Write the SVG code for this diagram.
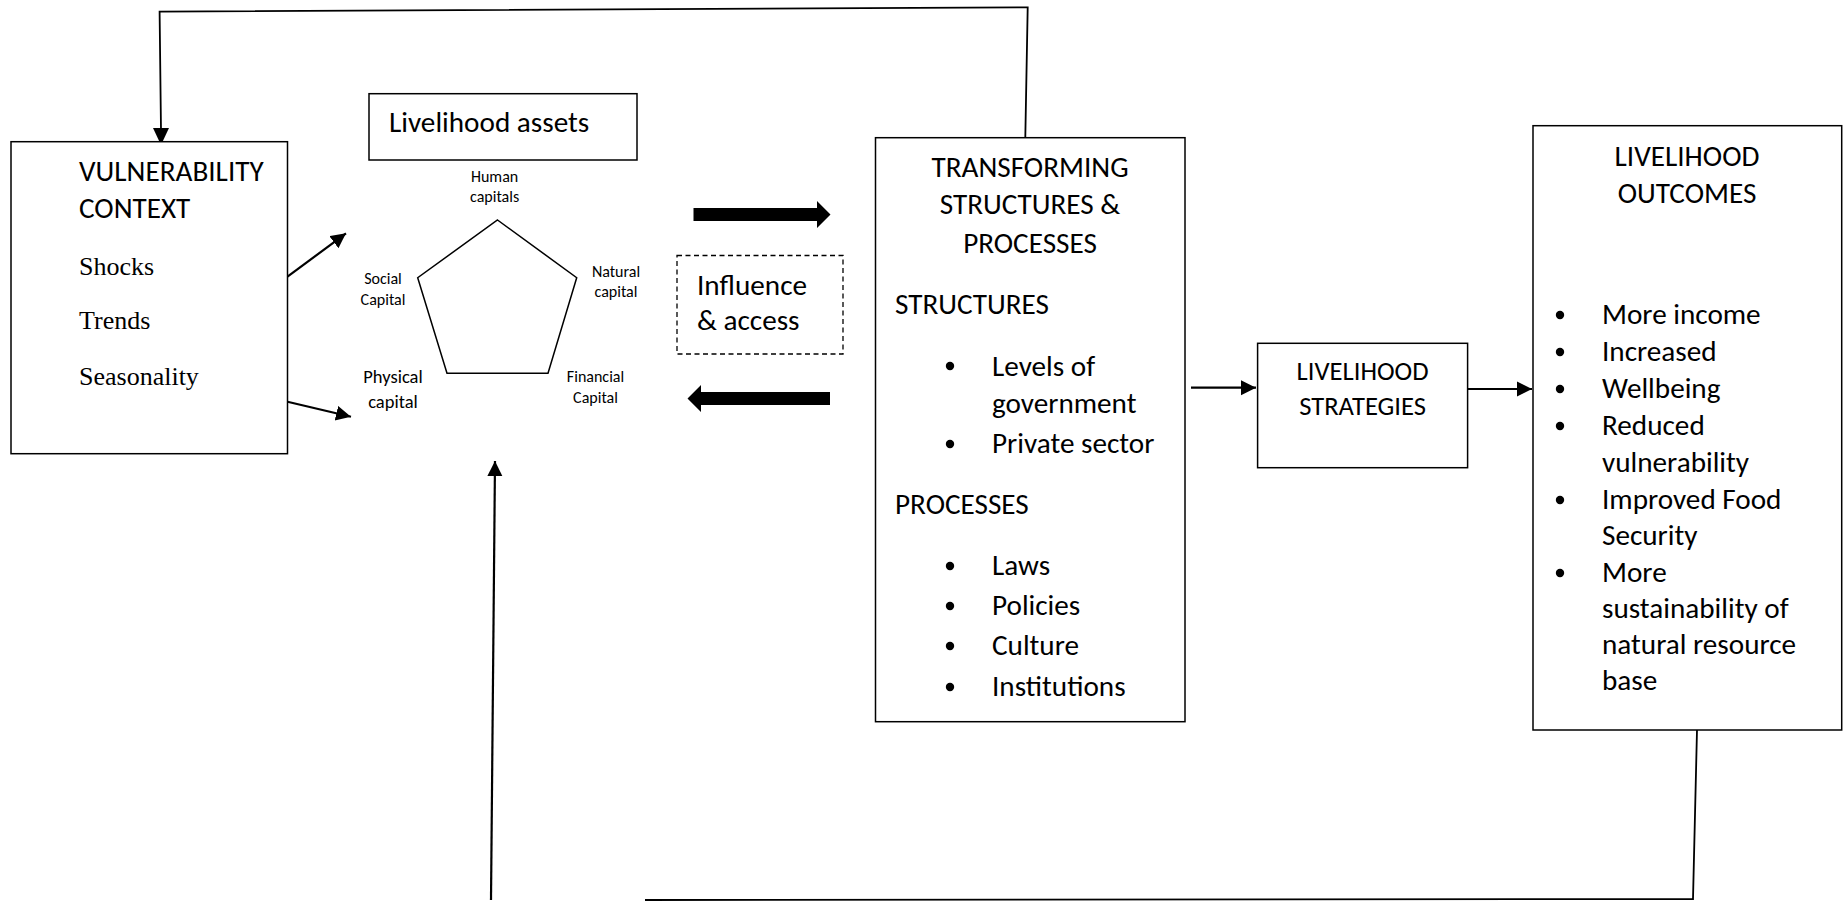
<svg xmlns="http://www.w3.org/2000/svg" width="1845" height="901" viewBox="0 0 1845 901">
<defs>
<style>
.box{fill:#fff;stroke:#000;stroke-width:1.5}
.dash{fill:#fff;stroke:#000;stroke-width:1.3;stroke-dasharray:5,3.5}
.t{font-family:Carlito,Lato,"Open Sans",sans-serif;font-size:29.2px;fill:#000}
.tc{font-family:Carlito,Lato,"Open Sans",sans-serif;font-size:29.2px;fill:#000;text-anchor:middle}
.ts{font-family:Carlito,Lato,"Open Sans",sans-serif;font-size:26.6px;fill:#000;text-anchor:middle}
.sm{font-family:Carlito,Lato,"Open Sans",sans-serif;font-size:16px;fill:#000;text-anchor:middle}
.smb{font-family:Carlito,Lato,"Open Sans",sans-serif;font-size:18.5px;fill:#000;text-anchor:middle}
.sr{font-family:"Liberation Serif","Times New Roman",serif;font-size:26px;fill:#000}
.ln{fill:none;stroke:#000;stroke-width:1.8}
.ar{fill:none;stroke:#000;stroke-width:2.2;marker-end:url(#ah)}
.bul{fill:#000}
</style>
<marker id="ah" markerUnits="userSpaceOnUse" markerWidth="18" markerHeight="18" refX="15" refY="8" orient="auto">
<path d="M0,0.5 L15,8 L0,15.5 Z" fill="#000"/>
</marker>
</defs>
<rect width="1845" height="901" fill="#fff"/>

<g id="connectors">
<polyline class="ln" points="1025.3,137.7 1027.7,7.3 159.6,11.7 161,130"/>
<path d="M153,128 L161,145 L169,128 Z" fill="#000"/>
<line class="ar" x1="287.5" y1="276.7" x2="346" y2="233.3"/>
<line class="ar" x1="287.5" y1="401.7" x2="351" y2="416.7"/>
<polygon points="693.5,208 817,208 817,201 830.5,214.5 817,228 817,221 693.5,221" fill="#000"/>
<polygon points="830,392 701,392 701,385 687.5,398.5 701,412 701,405 830,405" fill="#000"/>
<line class="ar" x1="1191" y1="387.7" x2="1256" y2="387.7"/>
<line class="ar" x1="1467.5" y1="389" x2="1532" y2="389"/>
<polyline class="ln" points="1697,730 1693,899 645,900"/>
<line class="ar" x1="491" y1="900" x2="495" y2="461"/>
</g>

<g id="vulnerability">
<rect class="box" x="11" y="141.7" width="276.5" height="312"/>
<text class="t" x="79" y="181">VULNERABILITY</text>
<text class="t" x="79" y="218">CONTEXT</text>
<text class="sr" x="79" y="275">Shocks</text>
<text class="sr" x="79" y="329">Trends</text>
<text class="sr" x="79" y="385">Seasonality</text>
</g>

<g id="livelihood-assets">
<rect class="box" x="369" y="93.7" width="268" height="66.3"/>
<text class="t" x="389" y="132">Livelihood assets</text>
</g>

<g id="pentagon">
<polygon points="497.5,220 576.7,277.7 548,373.3 447,373.3 417.7,277.7" fill="none" stroke="#000" stroke-width="1.5"/>
<text class="sm" x="494.6" y="181.7">Human</text>
<text class="sm" x="494.6" y="201.7">capitals</text>
<text class="sm" x="383" y="284">Social</text>
<text class="sm" x="383" y="305">Capital</text>
<text class="sm" x="616" y="276.7">Natural</text>
<text class="sm" x="616" y="296.7">capital</text>
<text class="smb" x="393" y="383">Physical</text>
<text class="smb" x="393" y="408">capital</text>
<text class="sm" x="595.5" y="381.7">Financial</text>
<text class="sm" x="595.5" y="402.7">Capital</text>
</g>

<g id="influence">
<rect class="dash" x="677" y="255.5" width="166" height="98.5"/>
<text class="t" x="697" y="295">Influence</text>
<text class="t" x="697" y="330">&amp; access</text>
</g>

<g id="transforming">
<rect class="box" x="875.5" y="137.7" width="309.5" height="584"/>
<text class="tc" x="1030" y="177">TRANSFORMING</text>
<text class="tc" x="1030" y="214">STRUCTURES &amp;</text>
<text class="tc" x="1030" y="253">PROCESSES</text>
<text class="t" x="895" y="314">STRUCTURES</text>
<circle class="bul" cx="950" cy="366" r="4.2"/>
<text class="t" x="992" y="376">Levels of</text>
<text class="t" x="992" y="413">government</text>
<circle class="bul" cx="950" cy="444" r="4.2"/>
<text class="t" x="992" y="453">Private sector</text>
<text class="t" x="895" y="514">PROCESSES</text>
<circle class="bul" cx="950" cy="566" r="4.2"/>
<text class="t" x="992" y="575">Laws</text>
<circle class="bul" cx="950" cy="606" r="4.2"/>
<text class="t" x="992" y="615">Policies</text>
<circle class="bul" cx="950" cy="646" r="4.2"/>
<text class="t" x="992" y="655">Culture</text>
<circle class="bul" cx="950" cy="687" r="4.2"/>
<text class="t" x="992" y="696">Institutions</text>
</g>

<g id="strategies">
<rect class="box" x="1257.6" y="343.3" width="210" height="124.4"/>
<text class="ts" x="1362.6" y="380">LIVELIHOOD</text>
<text class="ts" x="1362.6" y="414.5">STRATEGIES</text>
</g>

<g id="outcomes">
<rect class="box" x="1533" y="125.7" width="308.7" height="604.3"/>
<text class="tc" x="1687" y="166">LIVELIHOOD</text>
<text class="tc" x="1687" y="202.5">OUTCOMES</text>
<circle class="bul" cx="1560" cy="315" r="4.2"/>
<text class="t" x="1602" y="324">More income</text>
<circle class="bul" cx="1560" cy="352" r="4.2"/>
<text class="t" x="1602" y="361">Increased</text>
<circle class="bul" cx="1560" cy="389" r="4.2"/>
<text class="t" x="1602" y="398">Wellbeing</text>
<circle class="bul" cx="1560" cy="426" r="4.2"/>
<text class="t" x="1602" y="435">Reduced</text>
<text class="t" x="1602" y="472">vulnerability</text>
<circle class="bul" cx="1560" cy="500" r="4.2"/>
<text class="t" x="1602" y="509">Improved Food</text>
<text class="t" x="1602" y="545">Security</text>
<circle class="bul" cx="1560" cy="573" r="4.2"/>
<text class="t" x="1602" y="582">More</text>
<text class="t" x="1602" y="618">sustainability of</text>
<text class="t" x="1602" y="654">natural resource</text>
<text class="t" x="1602" y="690">base</text>
</g>
</svg>
